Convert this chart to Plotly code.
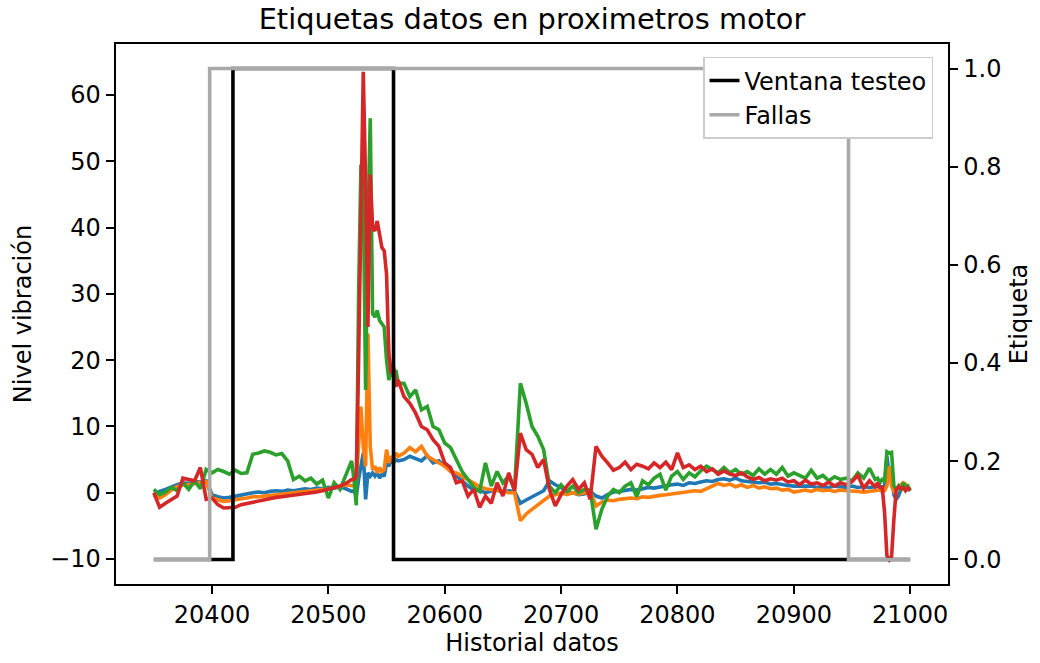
import plotly.graph_objects as go

# ---------------- data ----------------
# sample index (Historial datos): coarse where smooth, finer around sharp events
historial = (list(range(20350, 20521, 5)) + list(range(20522, 20561, 2))
             + list(range(20565, 20971, 5)) + list(range(20972, 21001, 2)))

sensor_1 = [  # blue
    -0.3, 0.2, 0.5, 0.9, 1.2, 1.5, 1.4, 1.7, 1.6, 1.8,
    -0.3, -0.6, -0.8, -0.7, -0.5, -0.3, -0.2, 0.0, 0.1, 0.0,
    0.2, 0.3, 0.2, 0.4, 0.3, 0.5, 0.6, 0.5, 0.7, 0.6,
    0.8, 0.7, 0.9, 0.6, 0.2,
    0.3, -0.5, 2.0, 4.0, 6.0, -1.0, 3.0, 2.5, 3.0, 2.5, 3.0, 2.2, 2.8, 2.5, 4.5, 4.0, 5.0, 4.5, 5.0, 4.8,
    5.0, 5.5, 5.2, 4.8, 5.6, 4.5, 4.8, 4.0, 3.5, 2.5, 1.8, 1.0, 0.4, 0.3, 0.0, 0.2, 0.5, 0.0, 0.3, 0.2,
    -1.6, -1.1, -0.6, -0.2, 0.3, 1.8, 1.2, 0.8, 0.2, 0.0, -0.3, -0.2, 0.2,
    -0.5, -0.8, -0.3, 0.1, 0.2, 0.3, 0.5, 0.4, 0.6, 0.8, 0.7, 0.9, 1.0, 1.2, 1.3, 1.1, 1.5, 1.4, 1.6, 1.8,
    1.7, 2.0, 2.1, 1.9, 2.2, 1.8, 1.7, 1.6, 1.5, 1.6, 1.3, 1.4, 1.2, 1.1, 1.0, 1.0, 0.9, 1.0, 0.8, 0.9,
    0.8, 1.0, 0.9, 0.8, 1.0, 0.8, 0.9, 0.8, 0.9,
    1.0, 0.8, 0.9, 1.0, 5.5, 2.5, 3.0, -0.3, -1.0, -0.5, 0.5, 0.8, 0.9, 0.5, 0.3,
]

sensor_2 = [  # orange
    -0.3, -0.8, -0.3, 0.4, 0.9, 1.2, 1.2, 1.4, 1.5, 1.7,
    -0.8, -1.0, -1.3, -1.2, -1.0, -0.9, -0.8, -0.6, -0.6, -0.5,
    -0.4, -0.3, -0.3, -0.1, 0.0, 0.0, 0.2, 0.3, 0.4, 0.5,
    0.6, 0.8, 0.9, 1.2, 1.0,
    1.0, 1.5, 8.0, 13.0, 7.0, 4.0, 24.0, 7.0, 3.5, 4.0, 3.0, 3.8, 3.2, 3.5, 6.5, 4.5, 5.5, 5.0, 6.0, 5.5,
    6.0, 6.8, 6.2, 7.0, 5.5, 5.0, 4.5, 4.0, 3.2, 3.0, 2.5, 2.0, 1.5, 0.9, 0.6, 0.5, 0.3, 0.2, 0.0, 0.0,
    -4.2, -3.2, -2.5, -1.8, -1.2, -0.5, -0.3, 0.0, -0.3, 0.0, -0.2, 0.0, 0.2,
    -2.0, -1.4, -1.1, -1.2, -1.0, -0.9, -0.8, -0.9, -0.6, -0.7, -0.5, -0.4, -0.3, -0.2, 0.0, 0.1, 0.2, 0.3, 0.2, 0.6,
    0.9, 1.4, 1.1, 1.3, 0.9, 1.2, 0.8, 1.1, 0.7, 0.9, 0.6, 0.7, 0.4, 0.5, 0.1, 0.3, 0.4, 0.2, 0.5, 0.3,
    0.4, 0.2, 0.4, 0.3, 0.3, 0.2, 0.1, 0.2, 0.3,
    0.3, 0.4, 0.2, 0.3, 1.0, 4.0, 1.0, 0.2, 0.5, 0.8, 1.2, 1.5, 1.3, 0.8, 0.5,
]

sensor_3 = [  # green
    0.5, -0.3, 0.1, 0.8, 0.3, 1.5, 0.5, 1.8, 0.6, 3.5,
    3.0, 3.5, 3.2, 2.8, 3.4, 2.9, 3.0, 5.8, 6.0, 6.3,
    6.1, 5.7, 5.9, 4.8, 2.0, 2.5, 1.8, 2.2, 1.3, 1.9,
    -0.8, 1.5, 0.5, 2.5, 4.8,
    2.0, -1.9, 30.0, 49.5, 46.0, 15.5, 40.0, 56.5, 27.0, 26.5, 27.5, 26.0, 25.5, 25.0, 20.0, 17.0, 18.5, 17.5, 18.5, 16.5,
    16.5, 14.5, 15.5, 12.5, 13.0, 10.0, 9.5, 7.5, 6.8, 5.0, 3.2, 2.0, 0.8, 0.2, 4.5, 1.0, 3.2, 1.5, 2.5, 0.5,
    16.5, 13.5, 10.0, 8.5, 6.5, 1.0, 0.0, 1.2, 0.2, 1.0, 0.0, 0.5, 0.4,
    -5.5, -2.5, -0.5, 0.5, 0.0, 1.0, 1.5, -0.6, 1.8, 1.2, 2.2, 2.8, 0.4, 2.5, 3.2, 2.0, 3.0, 2.4, 3.3, 4.0,
    3.5, 3.0, 3.8, 3.0, 3.5, 2.8, 3.2, 2.6, 3.6, 2.8, 3.5, 2.8, 3.8, 2.5, 3.0, 2.6, 2.2, 3.4, 2.2, 2.6,
    1.8, 2.4, 2.0, 2.2, 1.8, 3.0, 2.2, 3.7, 2.0,
    2.2, 1.5, 2.0, 1.8, 6.2, 6.0, 6.1, 1.0, 0.5, 1.0, 0.3, 1.5, 0.8, 1.0, 0.3,
]

sensor_4 = [  # red
    0.0, -2.2, -1.6, -1.0, -0.5, 2.2, 2.0, 1.8, 3.8, -1.0,
    -0.8, -1.8, -2.3, -2.3, -2.2, -1.8, -1.6, -1.4, -1.2, -1.1,
    -0.9, -0.7, -0.6, -0.5, -0.4, -0.3, -0.1, 0.0, 0.1, 0.3,
    0.5, 0.8, 1.0, 1.4, 2.0,
    2.0, 2.5, 20.0, 40.0, 63.5, 47.0, 25.0, 48.0, 40.0, 39.5, 41.0, 39.0, 37.0, 36.5, 33.0, 21.0, 18.0, 19.0, 16.0, 17.0,
    14.5, 13.5, 12.0, 10.0, 9.5, 8.0, 7.0, 4.5, 3.8, 1.5, 1.8, -0.5, 0.5, -2.2, -0.5, -1.6, 1.5, -0.5, 3.0, 0.3,
    9.0, 6.5, 5.8, 3.8, 5.0, 0.5, -2.0, -0.3, 1.0, 2.0, 0.5, 1.5, -1.0,
    7.0, 5.5, 4.5, 3.4, 3.8, 4.6, 3.5, 4.3, 4.0, 3.6, 4.5, 3.8, 4.6, 3.5, 6.0, 3.8, 4.2, 3.5, 4.0, 3.2,
    3.6, 2.8, 3.3, 2.8, 2.6, 3.0, 2.4, 2.0, 2.3, 1.8, 2.1, 1.9, 2.2, 1.6, 1.8, 1.2, 1.9, 1.3, 1.5, 1.1,
    1.6, 1.0, 1.5, 1.2, 1.7, 2.6, 0.7, 1.8, 0.9,
    1.5, 0.8, 0.8, -3.0, -9.5, -10.1, -9.6, -4.0, 0.5, 0.9, 0.6, 0.8, 0.3, 0.7, 0.4,
]

# label series (change points, held constant until the next one)
ventana_x = [20350, 20418, 20556, 21000]
ventana_y = [0, 1, 0, 0]
fallas_x = [20350, 20398, 20947, 21000]
fallas_y = [0, 1, 0, 0]

series_colors = ["#1f77b4", "#ff7f0e", "#2ca02c", "#d62728"]
x_ticks = [20400, 20500, 20600, 20700, 20800, 20900, 21000]

# ---------------- figure ----------------
FONT = "DejaVu Sans"
FS = 24
LW = 3.6
fig = go.Figure()

for vals, col in zip([sensor_1, sensor_2, sensor_3, sensor_4], series_colors):
    fig.add_trace(go.Scatter(x=historial, y=vals, mode="lines",
                             line=dict(color=col, width=LW),
                             showlegend=False, yaxis="y"))

fig.add_trace(go.Scatter(x=ventana_x, y=ventana_y, mode="lines", name="Ventana testeo",
                         line=dict(color="black", width=LW, shape="hv"), yaxis="y2"))
fig.add_trace(go.Scatter(x=fallas_x, y=fallas_y, mode="lines", name="Fallas",
                         line=dict(color="#a9a9a9", width=LW, shape="hv"), yaxis="y2"))

axis_common = dict(showline=True, linecolor="black", linewidth=1.9, ticks="outside",
                   ticklen=8.5, tickwidth=1.9, tickcolor="black", showgrid=False,
                   zeroline=False, tickfont=dict(family=FONT, size=FS, color="black"))

fig.update_layout(
    width=1040, height=663,
    margin=dict(l=116, r=92, t=44, b=79),
    paper_bgcolor="white", plot_bgcolor="white",
    font=dict(family=FONT, size=FS, color="black"),
    title=dict(text="Etiquetas datos en proximetros motor", x=0.5, xref="paper",
               y=1 - 19 / 663, yref="container", yanchor="middle",
               font=dict(family=FONT, size=28.8, color="black")),
    xaxis=dict(range=[20317.5, 21032.5], tickvals=x_ticks, tickformat="d", mirror=True,
               title=dict(text="Historial datos", standoff=6,
                          font=dict(family=FONT, size=FS)), **axis_common),
    yaxis=dict(range=[-13.77, 67.7], tick0=0, dtick=10,
               title=dict(text="Nivel vibración", standoff=12,
                          font=dict(family=FONT, size=FS)), **axis_common),
    yaxis2=dict(range=[-0.05, 1.05], tick0=0, dtick=0.2, tickformat=".1f",
                overlaying="y", side="right",
                title=dict(text="Etiqueta", standoff=10,
                           font=dict(family=FONT, size=FS)), **axis_common),
    legend=dict(x=0.982, xanchor="right", y=0.976, yanchor="top",
                bgcolor="white", bordercolor="#cccccc", borderwidth=1.5,
                font=dict(family=FONT, size=FS, color="black"),
                tracegroupgap=2),
)

fig.write_html("out.html")
